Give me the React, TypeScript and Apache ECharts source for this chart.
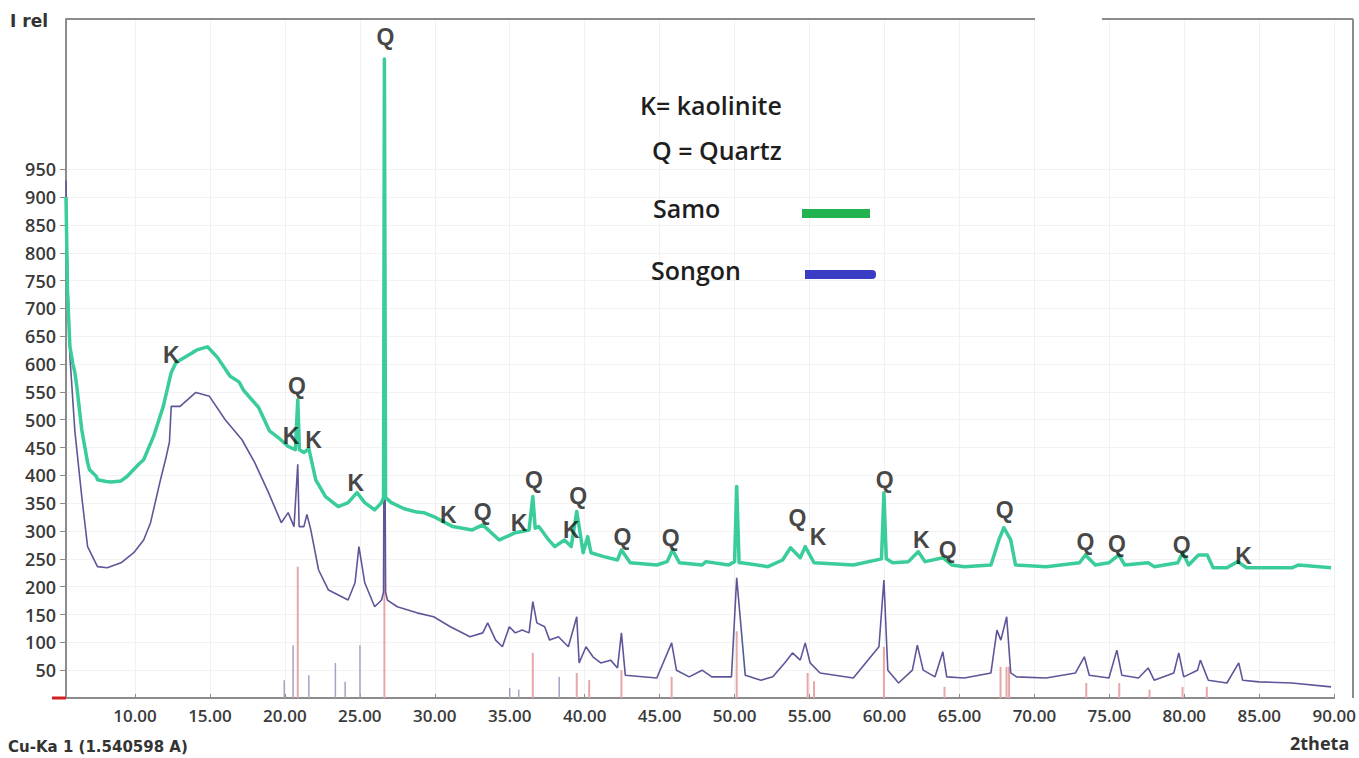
import React, { useEffect, useRef } from "react";
import * as echarts from "echarts";

// 2-theta (deg) vs relative intensity
const samoData: [number, number][] = [
  [5.4, 900], [5.5, 730], [5.66, 632], [5.86, 600], [5.99, 585], [6.12, 560], [6.45, 482], [6.84, 423],
  [6.97, 410], [7.43, 398], [7.5, 392], [8.09, 389], [8.42, 388], [9.07, 390], [9.47, 398], [10.25, 420],
  [10.58, 428], [11.24, 470], [11.89, 524], [12.42, 585], [12.74, 603], [13.3, 612], [13.86, 621],
  [14.19, 626], [14.71, 630], [14.84, 631], [15.5, 612], [16.35, 578], [16.94, 568], [17.27, 552],
  [18.25, 522], [18.97, 480], [19.56, 468], [20.22, 452], [20.7, 446], [20.86, 536], [20.97, 446],
  [21.27, 441], [21.6, 448], [22.06, 392], [22.71, 362], [23.56, 344], [24.22, 351], [24.81, 369],
  [25.33, 351], [25.99, 338], [26.45, 351], [26.58, 360], [26.64, 1148], [26.72, 360], [27.1, 351],
  [27.96, 340], [28.81, 334], [29.27, 333], [29.92, 326], [31.2, 308], [32.5, 302], [33.2, 311],
  [34.3, 284], [35.37, 297], [36.29, 302], [36.54, 362], [36.7, 305], [36.94, 308], [37.6, 284],
  [38.0, 272], [38.65, 284], [39.1, 272], [39.47, 335], [39.9, 261], [40.2, 290], [40.42, 261],
  [41.27, 254], [42.19, 248], [42.45, 266], [43.04, 243], [44.81, 239], [45.5, 245], [45.86, 266],
  [46.32, 243], [47.83, 239], [48.09, 245], [49.6, 239], [50.0, 245], [50.14, 380], [50.3, 243],
  [50.45, 243], [52.22, 236], [53.2, 248], [53.73, 270], [54.38, 252], [54.71, 272], [55.3, 243],
  [57.92, 239], [59.8, 250], [59.96, 369], [60.12, 250], [60.55, 243], [61.6, 245], [62.25, 263],
  [62.71, 245], [63.89, 252], [64.48, 239], [65.33, 236], [67.1, 239], [67.63, 284], [67.96, 306],
  [68.42, 284], [68.74, 239], [70.78, 236], [73.01, 243], [73.4, 257], [74.06, 239], [74.97, 243],
  [75.63, 257], [76.02, 239], [77.59, 243], [77.99, 236], [79.56, 243], [79.89, 261], [80.29, 239],
  [80.94, 257], [81.53, 257], [81.92, 234], [82.84, 234], [83.56, 245], [84.15, 234], [87.17, 234],
  [87.63, 239], [89.79, 234],
];

const songonData: [number, number][] = [
  [5.4, 930], [5.5, 780], [5.66, 614], [5.99, 480], [6.45, 362], [6.84, 272], [7.5, 236], [8.15, 234],
  [9.07, 243], [9.92, 261], [10.58, 284], [11.04, 315], [11.7, 392], [12.09, 434], [12.3, 460],
  [12.42, 524], [13.01, 524], [14.06, 549], [14.97, 542], [16.02, 500], [17.14, 464], [17.99, 423],
  [18.91, 369], [19.76, 315], [20.22, 333], [20.61, 308], [20.86, 420], [20.95, 308], [21.27, 308],
  [21.47, 330], [21.73, 302], [22.25, 230], [22.91, 194], [24.22, 176], [24.68, 207], [24.94, 272],
  [25.33, 207], [25.99, 164], [26.45, 176], [26.58, 190], [26.64, 650], [26.72, 190], [26.84, 176],
  [27.5, 164], [28.81, 153], [29.92, 146], [31.04, 128], [32.35, 110], [33.2, 117], [33.53, 135],
  [34.06, 104], [34.51, 92], [34.97, 128], [35.37, 117], [35.83, 122], [36.29, 117], [36.54, 173],
  [36.81, 135], [37.33, 128], [37.66, 104], [38.25, 110], [38.91, 92], [39.47, 146], [39.63, 63],
  [40.09, 92], [40.55, 74], [41.07, 63], [41.73, 68], [42.19, 54], [42.45, 117], [42.71, 41],
  [44.81, 36], [45.8, 99], [46.12, 50], [46.97, 38], [47.83, 50], [48.48, 38], [49.79, 38],
  [50.14, 216], [50.71, 41], [51.76, 32], [52.55, 38], [53.34, 63], [53.86, 81], [54.38, 68],
  [54.71, 99], [55.04, 63], [55.7, 45], [57.92, 36], [59.63, 92], [59.96, 212], [60.22, 50],
  [60.94, 27], [61.86, 50], [62.19, 95], [62.58, 50], [63.37, 38], [63.89, 83], [64.15, 38],
  [65.33, 36], [67.1, 45], [67.5, 122], [67.76, 104], [68.15, 146], [68.42, 45], [68.81, 38],
  [70.78, 36], [72.74, 45], [73.33, 74], [73.66, 41], [74.97, 36], [75.5, 86], [75.83, 41],
  [76.94, 36], [77.59, 54], [77.99, 32], [79.3, 45], [79.63, 81], [79.96, 38], [80.88, 50],
  [81.07, 68], [81.6, 32], [82.84, 27], [83.63, 63], [83.89, 32], [84.98, 29], [87.17, 27], [89.79, 20],
];

const kaoliniteSticks: [number, number][] = [
  [19.96, 32], [20.55, 95], [21.6, 41], [23.37, 63], [24.02, 29], [25.01, 95], [35.0, 18], [35.6, 15], [38.3, 38],
];

const quartzSticks: [number, number][] = [
  [20.86, 236], [26.64, 650], [36.54, 81], [39.47, 45], [40.3, 32], [42.45, 50], [45.8, 38], [50.14, 120],
  [54.87, 45], [55.3, 30], [59.96, 92], [64.0, 20], [67.74, 56], [68.14, 56], [68.31, 56], [73.46, 27],
  [75.66, 27], [77.68, 15], [79.88, 20], [81.5, 20],
];

const peakLabels: [number, number, string][] = [
  [12.42, 617, "K"], [20.81, 560, "Q"], [20.42, 471, "K"], [21.92, 464, "K"], [24.74, 387, "K"],
  [26.71, 1187, "Q"], [30.91, 329, "K"], [33.2, 335, "Q"], [35.63, 315, "K"], [36.61, 392, "Q"],
  [39.56, 363, "Q"], [39.1, 302, "K"], [42.51, 290, "Q"], [45.73, 288, "Q"], [54.19, 324, "Q"],
  [55.56, 290, "K"], [60.02, 392, "Q"], [62.45, 283, "K"], [64.22, 266, "Q"], [68.02, 338, "Q"],
  [73.4, 281, "Q"], [75.5, 277, "Q"], [79.83, 275, "Q"], [83.96, 256, "K"],
];

const xTickValues = [10, 15, 20, 25, 30, 35, 40, 45, 50, 55, 60, 65, 70, 75, 80, 85, 90];
const yTickValues = [50, 100, 150, 200, 250, 300, 350, 400, 450, 500, 550, 600, 650, 700, 750, 800, 850, 900, 950];

const legendTexts = ["K= kaolinite", "Q = Quartz", "Samo", "Songon"];

function stickRenderer(color: string, width: number) {
  return (_params: any, api: any) => {
    const x = api.value(0);
    const h = api.value(1);
    const p0 = api.coord([x, 0]);
    const p1 = api.coord([x, h]);
    return {
      type: "line",
      shape: { x1: p0[0], y1: p0[1], x2: p1[0], y2: p1[1] },
      style: { stroke: color, lineWidth: width },
    };
  };
}

export default function App() {
  const ref = useRef<HTMLDivElement>(null);
  useEffect(() => {
    if (!ref.current) return;
    const chart = echarts.init(ref.current, undefined, { renderer: "svg" });
    const axisFont = { fontFamily: "Open Sans", fontWeight: 600 as any, color: "#3a3a3a" };
    const legendFont = "600 25px 'Open Sans'";
    chart.setOption({
      animation: false,
      backgroundColor: "#ffffff",
      grid: { left: 66, right: 3, top: 19, bottom: 60, containLabel: false },
      xAxis: {
        type: "value",
        min: 5.4,
        max: 90,
        axisLine: { show: true, lineStyle: { color: "#8c8c8c", width: 2 } },
        axisTick: { show: true, customValues: xTickValues, length: 4, inside: true, lineStyle: { color: "#8c8c8c" } },
        axisLabel: {
          customValues: xTickValues,
          formatter: (v: number) => v.toFixed(2),
          margin: 9,
          fontSize: 17,
          ...axisFont,
        },
        splitLine: { show: true, lineStyle: { color: "#f1f1f1", width: 1 } },
      },
      yAxis: {
        type: "value",
        min: 0,
        max: 1220,
        axisLine: { show: true, lineStyle: { color: "#8c8c8c", width: 2 } },
        axisTick: { show: true, customValues: yTickValues, length: 6, lineStyle: { color: "#8c8c8c" } },
        axisLabel: { customValues: yTickValues, margin: 10, fontSize: 18, ...axisFont },
        splitLine: { show: true, lineStyle: { color: "#f3f3f3", width: 1 } },
      },
      series: [
        {
          type: "custom",
          name: "kaolinite ref",
          data: kaoliniteSticks,
          renderItem: stickRenderer("#ab9fc6", 1.5),
          z: 1,
          silent: true,
        },
        {
          type: "custom",
          name: "quartz ref",
          data: quartzSticks,
          renderItem: stickRenderer("#e9a6a6", 2),
          z: 1,
          silent: true,
        },
        {
          type: "line",
          name: "Songon",
          data: songonData,
          showSymbol: false,
          lineStyle: { color: "#5d5799", width: 1.6 },
          z: 2,
        },
        {
          type: "line",
          name: "Samo",
          data: samoData,
          showSymbol: false,
          lineStyle: { color: "#3acd9b", width: 3.5, join: "round" },
          z: 3,
        },
        {
          type: "scatter",
          name: "labels",
          data: peakLabels,
          symbolSize: 0,
          z: 5,
          label: {
            show: true,
            position: "inside",
            formatter: (p: any) => p.value[2],
            fontFamily: "Liberation Sans",
            fontWeight: "bold",
            fontSize: 23,
            color: "#141414",
          },
        },
      ],
      graphic: [
        { type: "text", z: 100, left: 10, top: 12, style: { text: "I rel", font: "bold 17px 'DejaVu Sans'", fill: "#333" } },
        { type: "line", z: 100, shape: { x1: 66, y1: 19, x2: 1035, y2: 19 }, style: { stroke: "#8c8c8c", lineWidth: 2 } },
        { type: "line", z: 100, shape: { x1: 1102, y1: 19, x2: 1353, y2: 19 }, style: { stroke: "#8c8c8c", lineWidth: 2 } },
        { type: "line", z: 100, shape: { x1: 1353, y1: 19, x2: 1353, y2: 698 }, style: { stroke: "#8c8c8c", lineWidth: 2 } },
        { type: "line", z: 100, shape: { x1: 52, y1: 698, x2: 66, y2: 698 }, style: { stroke: "#d42020", lineWidth: 3 } },
        { type: "text", z: 100, left: 640, top: 92, style: { text: legendTexts[0], font: legendFont, fill: "#1e1e1e" } },
        { type: "text", z: 100, left: 652, top: 137, style: { text: legendTexts[1], font: legendFont, fill: "#1e1e1e" } },
        { type: "text", z: 100, left: 653, top: 195, style: { text: legendTexts[2], font: legendFont, fill: "#1e1e1e" } },
        { type: "text", z: 100, left: 651, top: 257, style: { text: legendTexts[3], font: legendFont, fill: "#1e1e1e" } },
        { type: "rect", z: 100, shape: { x: 802, y: 209, width: 68, height: 9 }, style: { fill: "#22b350" } },
        { type: "rect", z: 100, shape: { x: 805, y: 270, width: 71, height: 9, r: [0, 4, 4, 0] }, style: { fill: "#3a3dc4" } },
        { type: "text", z: 100, left: 8, top: 739, style: { text: "Cu-Ka 1 (1.540598 A)", font: "bold 15px 'DejaVu Sans'", fill: "#333" } },
        { type: "text", z: 100, left: 1290, top: 734, style: { text: "2theta", font: "bold 18px 'Open Sans'", fill: "#333" } },
      ],
    });
    return () => chart.dispose();
  }, []);
  return <div ref={ref} style={{ position: "fixed", left: 0, top: 0, width: 1359, height: 758 }} />;
}
